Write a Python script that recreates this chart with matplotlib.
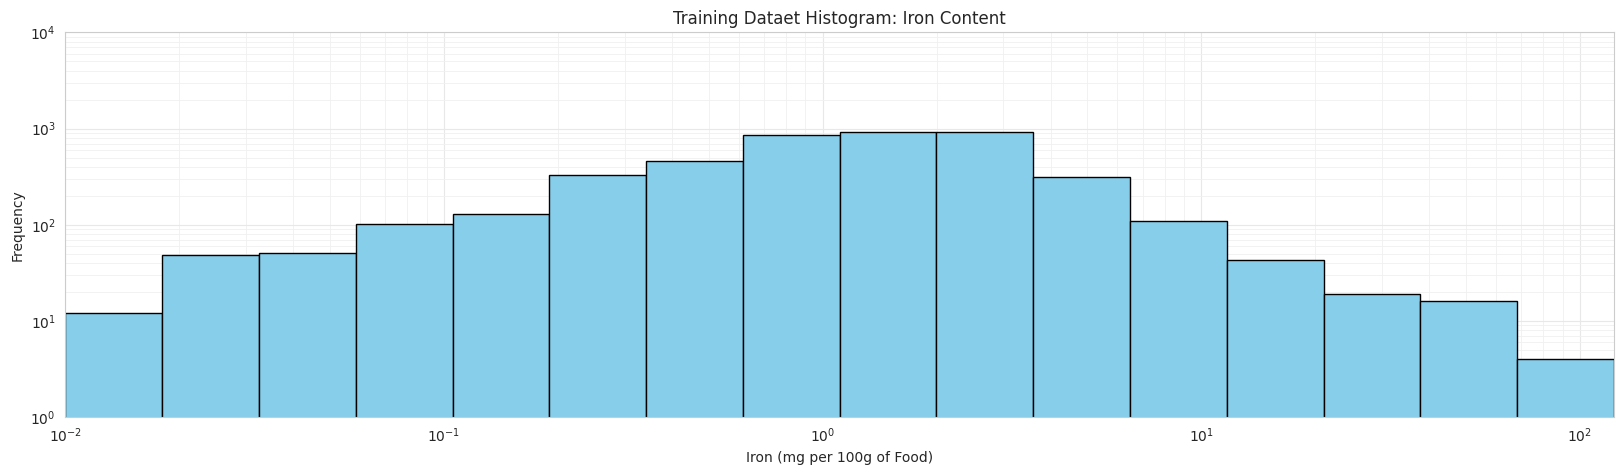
import numpy as np
import matplotlib
matplotlib.use("Agg")
import matplotlib.pyplot as plt
import seaborn as sns

# bin edges (log spaced) and counts
bin_edges = np.logspace(-2, 2.09, 17)
counts = [12, 48, 51, 101, 128, 328, 464, 862, 929, 929, 312, 110, 43, 19, 16, 4]

sns.set_style("whitegrid")

fig, ax = plt.subplots(figsize=(16.24, 4.75), dpi=100)
ax.hist(bin_edges[:-1], bins=bin_edges, weights=counts,
        color="skyblue", edgecolor="black", linewidth=1.0)

ax.set_xscale("log")
ax.set_yscale("log")
ax.set_xlim(bin_edges[0], bin_edges[-1])
ax.set_ylim(1, 1e4)
ax.grid(True, which="major", color="#e8e8e8", linewidth=0.8)
ax.grid(True, which="minor", color="#f0f0f0", linewidth=0.6)
ax.set_axisbelow(True)

ax.set_title("Training Dataet Histogram: Iron Content", fontsize=12)
ax.set_xlabel("Iron (mg per 100g of Food)")
ax.set_ylabel("Frequency")

fig.subplots_adjust(left=0.0403, right=0.9938, bottom=0.1221, top=0.9316)
plt.savefig("out.png")
